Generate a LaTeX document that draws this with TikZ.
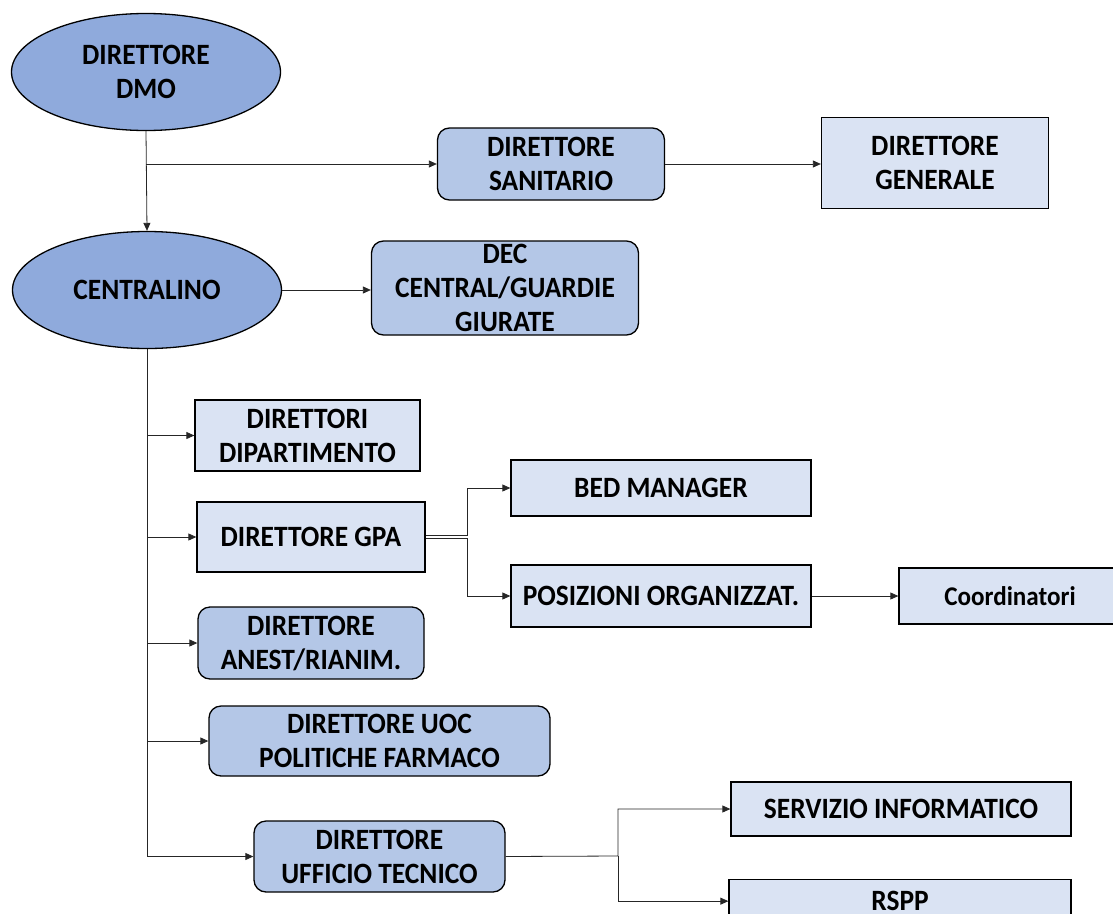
\documentclass[tikz,border=0pt]{standalone}
\usepackage{fontspec}
\setmainfont{Carlito}[FakeStretch = 0.93]
\usetikzlibrary{shapes.geometric,arrows.meta}

\definecolor{ovalblue}{HTML}{8FAADC}
\definecolor{roundblue}{HTML}{B4C7E7}
\definecolor{paleblue}{HTML}{DAE3F3}

\tikzset{
    oval/.style = {ellipse, draw = black, line width = 1.3pt, fill = ovalblue,
                   minimum width = 269pt, minimum height = 117pt, inner sep = 0pt, align = center},
    roundbox/.style = {rectangle, rounded corners = 12pt, draw = black, line width = 1.3pt,
                       fill = roundblue, inner sep = 0pt, align = center},
    plainbox/.style = {rectangle, draw = black, line width = 1.3pt,
                       fill = paleblue, inner sep = 0pt, align = center},
    link/.style = {draw = black!85, line width = 0.8pt, -{Triangle[length = 8pt, width = 7pt]}}
}

\begin{document}
\begin{tikzpicture}[x = 1pt, y = -1pt, font = \fontsize{29.5}{34}\selectfont\bfseries]
        \useasboundingbox (0,0) rectangle (1113,913);

        % top of the chart
        \node[oval] (dmo) at (146,72) {DIRETTORE\\DMO};
        \node[roundbox, minimum width = 227pt, minimum height = 72pt] (sanitario) at (551,164) {DIRETTORE\\SANITARIO};
        \node[plainbox, minimum width = 227pt, minimum height = 91pt] (generale) at (935,163) {DIRETTORE\\GENERALE};

        \node[oval] (centralino) at (147,290) {CENTRALINO};
        \node[roundbox, minimum width = 267pt, minimum height = 94pt] (dec) at (505,288) {DEC\\CENTRAL/GUARDIE\\GIURATE};

        % branches of the centralino
        \node[plainbox, minimum width = 225pt, minimum height = 71pt] (dipartimento) at (307.5,435.5) {DIRETTORI\\DIPARTIMENTO};
        \node[plainbox, minimum width = 228pt, minimum height = 70pt] (gpa) at (311,537) {DIRETTORE GPA};
        \node[roundbox, minimum width = 226pt, minimum height = 72pt] (anest) at (311,643) {DIRETTORE\\ANEST/RIANIM.};
        \node[roundbox, minimum width = 341pt, minimum height = 70pt] (farmaco) at (379.5,741) {DIRETTORE UOC\\POLITICHE FARMACO};
        \node[roundbox, minimum width = 251pt, minimum height = 71pt] (tecnico) at (379.5,856.5) {DIRETTORE\\UFFICIO TECNICO};

        \node[plainbox, minimum width = 300pt, minimum height = 56pt] (bed) at (661,488) {BED MANAGER};
        \node[plainbox, minimum width = 300pt, minimum height = 62pt] (posizioni) at (661,596) {POSIZIONI ORGANIZZAT.};
        \node[plainbox, minimum width = 222pt, minimum height = 56pt,
              font = \fontsize{27}{32}\selectfont\bfseries] (coord) at (1010,596) {Coordinatori};

        \node[plainbox, minimum width = 340pt, minimum height = 54pt] (informatico) at (901,809) {SERVIZIO INFORMATICO};
        \node[plainbox, minimum width = 342pt, anchor = north, text height = 31pt, text depth = 26pt] (rspp) at (900,879) {RSPP};

        \coordinate (gpafork) at (467,537);
        \coordinate (tecfork) at (618,856);

        % connectors
        \draw[link] (dmo.south) -- (centralino.north);
        \draw[link] (dmo.south |- sanitario.west) -- (sanitario.west);
        \draw[link] (sanitario.east) -- (sanitario.east -| generale.west);
        \draw[link] (centralino.east) -- (centralino.east -| dec.west);

        \foreach \n in {dipartimento, gpa, anest, farmaco, tecnico}
            \draw[link] (centralino.south) |- (\n.west);

        \draw[link] ([yshift = 1.2pt]gpa.east) -- ([yshift = 1.2pt]gpafork) |- (bed.west);
        \draw[link] ([yshift = -1.2pt]gpa.east) -- ([yshift = -1.2pt]gpafork) |- (posizioni.west);
        \draw[link] (posizioni.east) -- (coord.west);

        \draw[link] (tecnico.east) -- (tecfork) |- (informatico.west);
        \draw[link] (tecfork) |- ([yshift = 7pt]rspp.west);
\end{tikzpicture}
\end{document}
